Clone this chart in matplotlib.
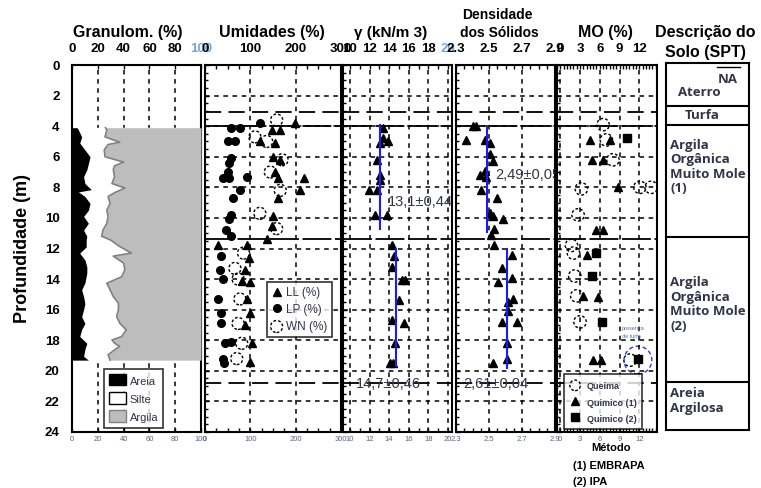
import matplotlib.pyplot as plt
from matplotlib.patches import Patch
from matplotlib.ticker import MultipleLocator

plt.rcParams['font.family'] = ['Liberation Sans', 'DejaVu Sans']

# Granulometria: limite areia (preto) e limite areia+silte (inicio da argila)
sand_depth = [4.1, 4.25, 4.7, 5.1, 5.55, 6.0, 6.45, 6.85, 7.3, 7.75, 8.15, 8.3, 8.6,
              9.05, 9.5, 9.9, 10.35, 10.8, 11.2, 11.45, 11.9, 12.3, 12.75, 13.2, 13.6,
              14.25, 14.7, 15.15, 15.6, 16.0, 16.45, 16.9, 17.3, 17.75, 18.2, 18.6, 19.05, 19.3]
sand = [4, 5, 7.5, 6, 10, 14, 12.7, 11.5, 9, 10, 15, 5, 10,
        14, 12.7, 9, 12.7, 9, 11.5, 11, 11, 6, 10, 11.5, 11.5,
        10, 7.5, 9, 10, 9, 7.5, 10, 7.5, 6, 11.5, 10, 9, 12.7]
fine_depth = [4.1, 4.25, 4.7, 5.05, 5.2, 5.55, 6.0, 6.35, 6.6, 6.85,
              7.3, 7.75, 8.05, 8.35, 8.6, 9.05, 9.5, 9.9, 10.35, 10.8,
              11.2, 11.45, 11.87, 12.3, 12.5, 12.95, 13.4, 13.85, 14.27, 14.7,
              15.14, 15.58, 16.01, 16.45, 16.88, 17.32, 17.76, 17.98, 18.19, 18.41,
              18.63, 18.95, 19.3]
sand_silt = [26, 27, 25.6, 37, 28, 25, 25.6, 40, 33, 32,
             33, 31, 41, 33, 28, 29.5, 27, 28, 27, 24,
             23, 30, 37, 46, 32, 40, 41, 38.5, 27, 29.5,
             32, 36, 36, 34.6, 37, 42, 38.5, 31, 33, 37,
             33, 28, 29.5]

# Umidades (%)
ll_depth = [3.8, 4.25, 4.25, 5.0, 5.1, 6.0, 6.2, 7.0, 7.4, 7.4,
            8.2, 8.7, 9.9, 10.5, 11.4, 11.8, 11.8, 12.6, 13.4, 14.1,
            14.2, 15.3, 16.2, 17.0, 18.2, 19.4]
ll = [199, 147, 166, 121, 155, 151, 166, 155, 162, 218,
      210, 162, 151, 147, 136, 29, 92, 96, 88, 81,
      99, 92, 99, 88, 103, 99]
lp_depth = [3.8, 4.15, 4.15, 5.0, 5.0, 6.1, 6.4, 7.0, 7.3, 7.4,
            7.4, 8.2, 8.7, 9.8, 10.1, 10.8, 11.2, 12.5, 13.4, 14.0,
            15.3, 16.2, 16.9, 18.1, 18.2, 19.2, 19.5]
lp = [121, 58, 77, 51, 66, 58, 54, 51, 92, 40,
      54, 77, 62, 58, 54, 47, 58, 36, 33, 40,
      29, 36, 36, 58, 44, 40, 42]
wn_depth = [3.6, 4.7, 5.0, 6.2, 7.0, 8.2, 9.7, 10.7, 12.3, 13.3, 14.0, 15.3, 16.9, 18.2, 19.2]
wn = [158, 110, 136, 170, 144, 166, 121, 158, 85, 66, 73, 77, 73, 81, 70]

# Peso especifico (kN/m3)
gamma_depth = [4.1, 4.8, 5.0, 5.1, 6.2, 7.2, 7.5, 8.2, 8.2, 9.8,
               9.8, 11.8, 12.5, 13.2, 14.05, 14.05, 15.4, 16.7, 16.9, 18.2,
               19.5, 19.5]
gamma = [13.4, 13.4, 13.9, 13.1, 12.75, 13.1, 13.1, 11.9, 12.75, 12.6,
         13.8, 14.3, 14.5, 14.3, 15.3, 15.6, 15.0, 14.3, 15.5, 14.6,
         14.1, 14.4]
gamma_mean = [13.1, 14.7]
gamma_span = [(3.9, 10.7), (12.0, 19.7)]
gamma_text = ["13,1±0,44", "14,7±0,46"]

# Densidade dos solidos
dens_depth = [4.0, 4.0, 4.9, 4.9, 5.1, 5.8, 6.3, 6.9, 7.2, 7.3,
              8.2, 8.7, 9.7, 9.9, 10.1, 10.7, 11.1, 11.8, 12.4, 13.3,
              13.9, 14.2, 15.3, 15.5, 16.1, 16.8, 16.8, 18.2, 19.2, 19.5]
dens = [2.405, 2.42, 2.36, 2.475, 2.506, 2.506, 2.526, 2.475, 2.445, 2.48,
        2.45, 2.547, 2.506, 2.526, 2.587, 2.53, 2.51, 2.53, 2.638, 2.577,
        2.638, 2.556, 2.647, 2.617, 2.617, 2.577, 2.668, 2.607, 2.607, 2.526]
dens_mean = [2.49, 2.61]
dens_span = [(4.1, 10.9), (12.0, 19.8)]
dens_text = ["2,49±0,05", "2,61±0,04"]

# Materia organica (%)
queima_depth = [3.9, 4.9, 6.2, 8.1, 8.0, 8.0, 9.8, 11.8, 12.3, 13.8, 15.1, 16.8, 19.3]
queima = [6.5, 7.0, 8.0, 3.2, 12.1, 13.8, 2.7, 1.7, 2.0, 2.2, 2.5, 3.0, 10.6]
quim1_depth = [4.9, 4.9, 6.2, 6.2, 8.0, 10.8, 10.8, 12.4, 15.1, 15.2, 19.3, 19.3]
quim1 = [4.5, 7.5, 4.75, 6.5, 8.8, 5.5, 6.5, 4.0, 3.5, 5.75, 5.0, 6.2]
quim2_depth = [4.8, 12.3, 13.8, 16.8, 19.2]
quim2 = [10.1, 5.5, 4.75, 6.3, 11.8]
turfa_mark = (11.8, 19.3)

# camadas
layer_dashed = [3.1, 20.8]
layer_solid = [4.0, 11.4]
desc_bounds = [2.8, 4.05, 11.4, 20.85]

W, H = 761, 488
TOP, BOT = 65, 432
TXT = '#33334a'

fig = plt.figure(figsize=(W / 100, H / 100), dpi=100)


def panel(x0, x1, xlim, ticks, labels, blue_last=False):
    ax = fig.add_axes([x0 / W, 1 - BOT / H, (x1 - x0) / W, (BOT - TOP) / H])
    ax.set_xlim(*xlim)
    ax.set_ylim(24, 0)
    ax.set_xticks(ticks)
    ax.set_xticklabels(labels)
    ax.tick_params(axis='x', which='both', direction='in', top=True, bottom=True,
                   length=3, width=1, labelsize=5.5, labelcolor='#55657f', pad=3)
    ax.set_yticks(range(0, 25, 2))
    for s in ax.spines.values():
        s.set_linewidth(1.5)
    top = ax.secondary_xaxis('top')
    top.set_xticks(ticks, labels)
    top.tick_params(length=0, pad=7, labelsize=9.5)
    top.spines['top'].set_visible(False)
    for t in top.get_xticklabels():
        t.set_fontweight('bold')
    if blue_last:
        top.get_xticklabels()[-1].set_color('#6fa8dc')
    return ax


def inner(ax):
    ax.tick_params(axis='y', which='both', direction='in', left=True, right=False,
                   labelleft=False, length=3, width=1)
    ax.tick_params(axis='y', which='minor', length=2)
    ax.yaxis.set_minor_locator(MultipleLocator(0.5))
    ax.grid(True, which='major', color='k', ls=(0, (3, 3)), lw=1.1)
    for d in layer_dashed:
        ax.axhline(d, color='k', lw=1.3, ls=(0, (9, 4)))
    for d in layer_solid:
        ax.axhline(d, color='k', lw=1.3, ls=(0, (16, 2)))


def box_legend(ax, handles, anchor, size, **kw):
    leg = ax.legend(handles=handles, loc='lower left', bbox_to_anchor=anchor,
                    frameon=True, fancybox=False, edgecolor='k', **kw)
    leg.get_frame().set_linewidth(1.2)
    leg.set_zorder(10)
    for t in leg.get_texts():
        t.set_color(TXT)
        t.set_fontsize(size)
    return leg


# Granulometria
ax1 = panel(72, 201, (0, 100), [0, 20, 40, 60, 80, 100],
            ['0', '20', '40', '60', '80', '100'], blue_last=True)
ax1.set_axisbelow(True)
ax1.grid(True, axis='x', color='k', ls=(0, (3, 3)), lw=1.1)
ax1.tick_params(axis='y', length=0, pad=9, labelsize=9.5)
for t in ax1.get_yticklabels():
    t.set_fontweight('bold')
ax1.fill_betweenx([fine_depth[0], fine_depth[-1]], 0, 100, color='white', zorder=2)
ax1.fill_betweenx(fine_depth, sand_silt, 100, color='#bdbdbd', lw=0, zorder=3)
ax1.plot(sand_silt, fine_depth, color='#808080', lw=1.2, zorder=4)
ax1.fill_betweenx(sand_depth, 0, sand, color='black', lw=0, zorder=5)
ax1.set_ylabel('Profundidade (m)', fontsize=13, fontweight='bold', labelpad=10)
box_legend(ax1, [Patch(fc='black', ec='k', label='Areia'),
                 Patch(fc='white', ec='k', label='Silte'),
                 Patch(fc='#bdbdbd', ec='#808080', label='Argila')],
           (0.25, 0.012), 8, handlelength=1.2, handleheight=0.9,
           handletextpad=0.3, borderpad=0.35, labelspacing=0.4,
           borderaxespad=0)

# Umidades
ax2 = panel(205, 341, (0, 300), [0, 100, 200, 300], ['0', '100', '200', '300'])
inner(ax2)
ax2.xaxis.set_minor_locator(MultipleLocator(25))
h_ll, = ax2.plot(ll, ll_depth, '^', color='k', ms=6, ls='none', label='LL (%)')
h_lp, = ax2.plot(lp, lp_depth, 'o', color='k', ms=5.5, ls='none', label='LP (%)')
h_wn = ax2.scatter(wn, wn_depth, s=75, facecolors='none', edgecolors='k',
                   linewidths=1, linestyles=(0, (2, 1.5)), label='WN (%)')
box_legend(ax2, [h_ll, h_lp, h_wn], (0.455, 0.258), 8.5, handlelength=0.8,
           handletextpad=0.3, borderpad=0.3, labelspacing=0.3, borderaxespad=0)

# Peso especifico
ax3 = panel(343, 452, (9.3, 20.4), [10, 12, 14, 16, 18, 20],
            ['10', '12', '14', '16', '18', '20'], blue_last=True)
inner(ax3)
ax3.xaxis.set_minor_locator(MultipleLocator(1))
ax3.plot(gamma, gamma_depth, '^', color='k', ms=6, ls='none')
for m, (d0, d1) in zip(gamma_mean, gamma_span):
    ax3.plot([m, m], [d0, d1], color='#1a1aff', lw=1.5)
ax3.text(13.9, 8.95, gamma_text[0], fontsize=10.5, color=TXT, va='center',
         clip_on=False, zorder=20)
ax3.text(10.6, 20.85, gamma_text[1], fontsize=10.5, color=TXT, va='center',
         clip_on=False, zorder=20)

# Densidade dos solidos
ax4 = panel(456, 555, (2.3, 2.9), [2.3, 2.5, 2.7, 2.9], ['2.3', '2.5', '2.7', '2.9'])
inner(ax4)
ax4.xaxis.set_minor_locator(MultipleLocator(0.05))
ax4.plot(dens, dens_depth, '^', color='k', ms=6, ls='none')
for m, (d0, d1) in zip(dens_mean, dens_span):
    ax4.plot([m, m], [d0, d1], color='#1a1aff', lw=1.5)
ax4.text(2.536, 7.2, dens_text[0], fontsize=10.5, color=TXT, va='center',
         clip_on=False, zorder=20)
ax4.text(2.342, 20.85, dens_text[1], fontsize=10.5, color=TXT, va='center',
         clip_on=False, zorder=20)

# Materia organica
ax5 = panel(557, 657, (-0.5, 14.7), [0, 3, 6, 9, 12, 15],
            ['0', '3', '6', '9', '12', '15'], blue_last=True)
ax5.set_xlim(-0.5, 14.7)
inner(ax5)
ax5.xaxis.set_minor_locator(MultipleLocator(0.5))
h_q = ax5.scatter(queima, queima_depth, s=80, facecolors='none', edgecolors='k',
                  linewidths=1, linestyles=(0, (2, 1.5)), label='Queima')
h_q1, = ax5.plot(quim1, quim1_depth, '^', color='k', ms=6, ls='none', label='Quimico (1)')
h_q2, = ax5.plot(quim2, quim2_depth, 's', color='k', ms=6, ls='none', label='Quimico (2)')
ax5.scatter([turfa_mark[0]], [turfa_mark[1]], s=400, facecolors='none',
            edgecolors='#2a3adf', linewidths=1, linestyles=(0, (3, 2)))
ax5.text(9.4, 17.1, 'presença\nde turfa', fontsize=4, color='#5070b0', va='top',
         linespacing=1.6)
leg = box_legend(ax5, [h_q, h_q1, h_q2], (0.07, 0.008), 6.5, handlelength=0.9,
                 handletextpad=0.4, borderpad=0.35, labelspacing=0.35,
                 borderaxespad=0, markerscale=0.85)
for t in leg.get_texts():
    t.set_fontweight('bold')

# Descricao do solo
axd = fig.add_axes([666 / W, 1 - 430 / H, 83 / W, 367 / H])
axd.set_xlim(0, 1)
axd.set_ylim(24, 0)
axd.set_xticks([])
axd.set_yticks([])
for s in axd.spines.values():
    s.set_linewidth(1.5)
for d in desc_bounds:
    axd.axhline(d, color='k', lw=1.5)
dfont = dict(family=['Open Sans', 'DejaVu Sans'], weight='bold', color=TXT)
axd.plot([0.61, 0.89], [0.25, 0.25], color='k', lw=1)
axd.text(0.74, 1.1, 'NA', fontsize=9.5, ha='center', va='center', **dfont)
axd.text(0.14, 1.95, 'Aterro', fontsize=9.5, va='center', **dfont)
axd.text(0.43, 3.45, 'Turfa', fontsize=9.5, ha='center', va='center', **dfont)
axd.text(0.05, 4.95, 'Argila\nOrgânica\nMuito Mole\n(1)', fontsize=9.5, va='top',
         linespacing=1.15, **dfont)
axd.text(0.05, 13.95, 'Argila\nOrgânica\nMuito Mole\n(2)', fontsize=9.5, va='top',
         linespacing=1.15, **dfont)
axd.text(0.05, 21.2, 'Areia\nArgilosa', fontsize=9.5, va='top',
         linespacing=1.15, **dfont)

# Titulos
tkw = dict(ha='center', va='center', fontweight='bold')
fig.text(128 / W, 1 - 33 / H, 'Granulom. (%)', fontsize=11.5, **tkw)
fig.text(272 / W, 1 - 33 / H, 'Umidades (%)', fontsize=11.5, **tkw)
fig.text(391 / W, 1 - 33 / H, 'γ (kN/m 3)', fontsize=11, **tkw)
fig.text(497 / W, 1 - 15 / H, 'Densidade', fontsize=10, **tkw)
fig.text(499 / W, 1 - 33 / H, 'dos Sólidos', fontsize=10, **tkw)
fig.text(605 / W, 1 - 32 / H, 'MO (%)', fontsize=11.5, **tkw)
fig.text(705 / W, 1 - 32 / H, 'Descrição do', fontsize=11.5, **tkw)
fig.text(705 / W, 1 - 52 / H, 'Solo (SPT)', fontsize=11.5, **tkw)

fig.text(611 / W, 1 - 448 / H, 'Método', fontsize=8, **tkw)
fig.text(573 / W, 1 - 466 / H, '(1) EMBRAPA', fontsize=8, va='center', fontweight='bold')
fig.text(573 / W, 1 - 482 / H, '(2) IPA', fontsize=8, va='center', fontweight='bold')

fig.savefig('out.png', dpi=100)
